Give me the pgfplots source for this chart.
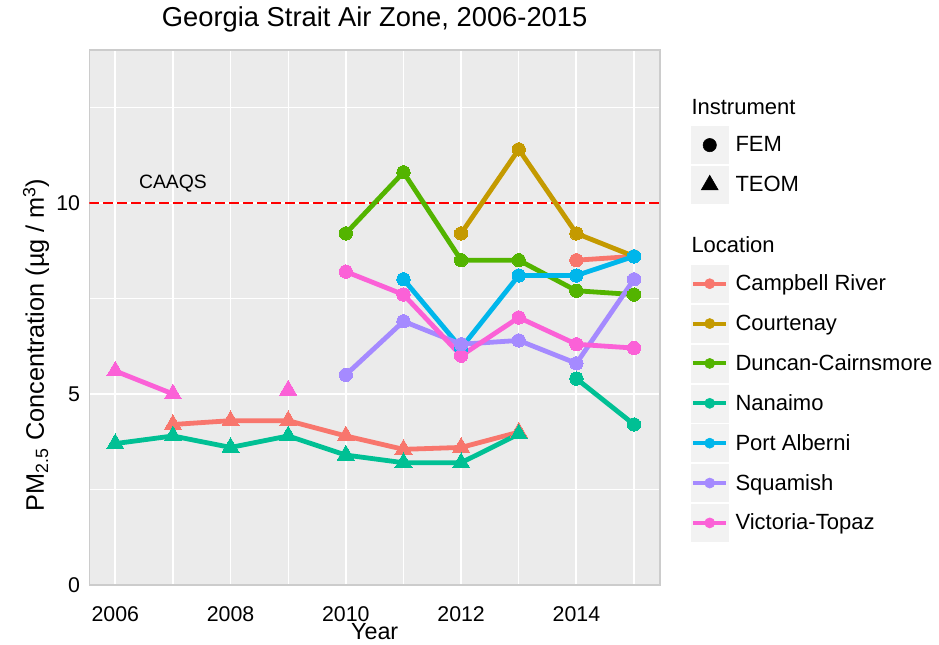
\documentclass[border=0pt]{standalone}
\usepackage{fontspec}
\setmainfont{Liberation Sans}
\usepackage{pgfplots}
\pgfplotsset{compat=1.18}
\definecolor{cCR}{HTML}{F8766D}
\definecolor{cCO}{HTML}{C49A00}
\definecolor{cDC}{HTML}{53B400}
\definecolor{cNA}{HTML}{00C094}
\definecolor{cPA}{HTML}{00B6EB}
\definecolor{cSQ}{HTML}{A58AFF}
\definecolor{cVT}{HTML}{FB61D7}
\definecolor{panelbg}{HTML}{EBEBEB}
\definecolor{keybg}{HTML}{F2F2F2}
\definecolor{bordergray}{HTML}{CCCCCC}
\pgfplotsset{
  ln/.style={line width=3.6pt, line join=round, mark=none, forget plot},
  fem/.style={only marks, color=#1, mark=*, mark size=5pt, forget plot, mark options={solid, fill=#1, draw=#1, line width=0pt}},
  teom/.style={only marks, color=#1, mark=triangle*, mark size=7.4pt, forget plot, mark options={solid, fill=#1, draw=#1, line width=0pt}},
}
\newcommand{\lockey}[1]{\addlegendimage{legend image code/.code={%
  \fill[keybg] (0pt,-13.875pt) rectangle (27.75pt,13.875pt);
  \draw[#1, line width=3pt] (1.5pt,0pt) -- (26.25pt,0pt);
  \fill[#1] (13.875pt,0pt) circle (3.8pt);}}}
\begin{document}
\begin{tikzpicture}
\useasboundingbox (-67pt,-44.25pt) rectangle (637.25pt,438.75pt);
\begin{axis}[
  at={(0pt,0pt)}, anchor=south west,
  scale only axis, width=428pt, height=401.25pt,
  xmin=2005.55, xmax=2015.45, ymin=0, ymax=14,
  axis background/.style={fill=panelbg},
  axis line style={draw=bordergray, line width=1pt},
  xtick={2006,2008,2010,2012,2014}, xticklabels={2006,2008,2010,2012,2014},
  minor xtick={2007,2009,2011,2013,2015},
  ytick={0,5,10}, yticklabels={0,5,10},
  minor ytick={2.5,7.5,12.5},
  grid=both,
  major grid style={white, line width=1.4pt},
  minor grid style={white, line width=0.9pt},
  major tick length=0pt, minor tick length=0pt,
  /pgf/number format/assume math mode=true,
  tick label style={font=\fontsize{16pt}{18pt}\selectfont, text=black},
  x tick label style={anchor=base, inner sep=0pt, yshift=-27pt},
  y tick label style={anchor=east, inner sep=0pt, xshift=-6.75pt},
  title={Georgia Strait Air Zone, 2006-2015},
  title style={font=\fontsize{20.5pt}{24pt}\selectfont, at={(axis description cs:0.5,1)}, anchor=base, yshift=12pt},
  xlabel={Year},
  xlabel style={font=\fontsize{17.5pt}{20pt}\selectfont, at={(axis description cs:0.5,0)}, anchor=base, yshift=-41pt},
  ylabel={PM\textsubscript{2.5} Concentration (µg\hspace{5pt}/\hspace{5pt}m\textsuperscript{3})},
  ylabel style={font=\fontsize{19pt}{22pt}\selectfont, at={(axis description cs:-0.0934,0.4486)}, anchor=center},
  legend style={at={(axis description cs:1.0543,0.9084)}, anchor=north west, draw=none, fill=none,
    inner sep=0pt, outer sep=0pt, row sep=1.75pt, column sep=5.25pt,
    font=\fontsize{16.5pt}{19pt}\selectfont, cells={anchor=west}, nodes={inner sep=0pt}},
]
% CAAQS reference line
\addplot[red, dashed, dash pattern=on 7pt off 3.5pt, line width=1.5pt, forget plot] coordinates {(2005.55,10) (2015.45,10)};
\node[font=\fontsize{14.5pt}{16pt}\selectfont, text=black] at (axis cs:2007,10.5) {CAAQS};

% lines
\addplot[ln, cCR] coordinates {(2007,4.2)(2008,4.3)(2009,4.3)(2010,3.9)(2011,3.55)(2012,3.6)(2013,4.0)};
\addplot[ln, cCR] coordinates {(2014,8.5)(2015,8.6)};
\addplot[ln, cCO] coordinates {(2012,9.2)(2013,11.4)(2014,9.2)(2015,8.6)};
\addplot[ln, cDC] coordinates {(2010,9.2)(2011,10.8)(2012,8.5)(2013,8.5)(2014,7.7)(2015,7.6)};
\addplot[ln, cNA] coordinates {(2006,3.7)(2007,3.9)(2008,3.6)(2009,3.9)(2010,3.4)(2011,3.2)(2012,3.2)(2013,3.95)};
\addplot[ln, cNA] coordinates {(2014,5.4)(2015,4.2)};
\addplot[ln, cPA] coordinates {(2011,8.0)(2012,6.2)(2013,8.1)(2014,8.1)(2015,8.6)};
\addplot[ln, cSQ] coordinates {(2010,5.5)(2011,6.9)(2012,6.3)(2013,6.4)(2014,5.8)(2015,8.0)};
\addplot[ln, cVT] coordinates {(2006,5.6)(2007,5.0)};
\addplot[ln, cVT] coordinates {(2010,8.2)(2011,7.6)(2012,6.0)(2013,7.0)(2014,6.3)(2015,6.2)};

% points
\addplot[teom=cCR] coordinates {(2007,4.2)(2008,4.3)(2009,4.3)(2010,3.9)(2011,3.55)(2012,3.6)(2013,4.0)};
\addplot[fem=cCR] coordinates {(2014,8.5)(2015,8.6)};
\addplot[fem=cCO] coordinates {(2012,9.2)(2013,11.4)(2014,9.2)(2015,8.6)};
\addplot[fem=cDC] coordinates {(2010,9.2)(2011,10.8)(2012,8.5)(2013,8.5)(2014,7.7)(2015,7.6)};
\addplot[teom=cNA] coordinates {(2006,3.7)(2007,3.9)(2008,3.6)(2009,3.9)(2010,3.4)(2011,3.2)(2012,3.2)(2013,3.95)};
\addplot[fem=cNA] coordinates {(2014,5.4)(2015,4.2)};
\addplot[fem=cPA] coordinates {(2011,8.0)(2012,6.2)(2013,8.1)(2014,8.1)(2015,8.6)};
\addplot[teom=cVT] coordinates {(2006,5.6)(2007,5.0)(2009,5.1)};
\addplot[fem=cVT] coordinates {(2010,8.2)(2011,7.6)(2012,6.0)(2013,7.0)(2014,6.3)(2015,6.2)};
\addplot[fem=cSQ] coordinates {(2010,5.5)(2011,6.9)(2012,6.3)(2013,6.4)(2014,5.8)(2015,8.0)};

% legend
\addlegendimage{empty legend}
\addlegendentry{\hspace*{-33pt}\raisebox{5.9pt}{Instrument}}
\addlegendimage{legend image code/.code={%
  \fill[keybg] (0pt,-13.875pt) rectangle (27.75pt,13.875pt);
  \fill[black] (13.875pt,0pt) circle (5pt);}}
\addlegendentry{FEM}
\addlegendimage{legend image code/.code={%
  \fill[keybg] (0pt,-13.875pt) rectangle (27.75pt,13.875pt);
  \fill[black] (13.875pt,7.3pt) -- (7.55pt,-3.65pt) -- (20.2pt,-3.65pt) -- cycle;}}
\addlegendentry{TEOM}
\addlegendimage{empty legend}
\addlegendentry{\hspace*{-33pt}\raisebox{5.9pt}{\rule{0pt}{35pt}Location}}
\lockey{cCR}\addlegendentry{Campbell River}
\lockey{cCO}\addlegendentry{Courtenay}
\lockey{cDC}\addlegendentry{Duncan-Cairnsmore}
\lockey{cNA}\addlegendentry{Nanaimo}
\lockey{cPA}\addlegendentry{Port Alberni}
\lockey{cSQ}\addlegendentry{Squamish}
\lockey{cVT}\addlegendentry{Victoria-Topaz}
\end{axis}
\end{tikzpicture}
\end{document}
